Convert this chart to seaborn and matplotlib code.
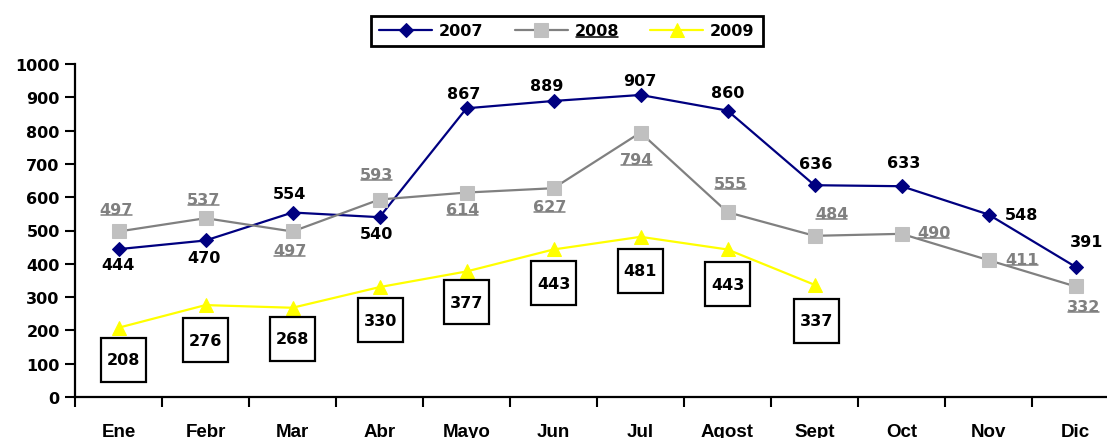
import matplotlib
matplotlib.use("Agg")
import matplotlib.pyplot as plt
import seaborn as sns
from matplotlib.lines import Line2D
from matplotlib.patches import Rectangle
from matplotlib.text import Text
from matplotlib.offsetbox import DrawingArea, AnnotationBbox

sns.set_theme(style="ticks", rc={
    "axes.edgecolor": "black", "xtick.color": "black", "ytick.color": "black",
    "text.color": "black", "axes.labelcolor": "black",
})
plt.rcParams['font.family'] = ['DejaVu Sans']

""" Data """
MONTHS = ['Ene', 'Febr', 'Mar', 'Abr', 'Mayo', 'Jun', 'Jul', 'Agost', 'Sept', 'Oct', 'Nov', 'Dic']
Y_TICKS = [0, 100, 200, 300, 400, 500, 600, 700, 800, 900, 1000]
YEARS = ['2007', '2008', '2009']
VALUES_2007 = [444, 470, 554, 540, 867, 889, 907, 860, 636, 633, 548, 391]
VALUES_2008 = [497, 537, 497, 593, 614, 627, 794, 555, 484, 490, 411, 332]
VALUES_2009 = [208, 276, 268, 330, 377, 443, 481, 443, 337]

""" label offsets (pixels, centre of text relative to the point) """
OFF_2007 = [(0, -15), (-2, -17), (-3, 19), (-3, -16), (-3, 15), (-7, 15), (-1, 14),
            (0, 18), (1, 22), (2, 24), (33, 0), (11, 25)]
OFF_2008 = [(-2, 22), (-2, 19), (-3, -19), (-3, 25), (-4, -17), (-4, -18), (-4, -27),
            (3, 29), (17, 22), (32, 1), (34, 1), (8, -20)]
OFF_2009 = [(5, -32), (0, -35), (0, -31), (1, -33), (0, -31), (0, -34), (0, -34),
            (0, -35), (2, -36)]

W, H = 1107, 439
FS = 11.5
GRAY_TXT = '#808080'
PX = 0.72  # points per pixel at dpi 100

fig = plt.figure(figsize=(W / 100, H / 100), dpi=100)
fig.patch.set_facecolor('white')
ax = fig.add_axes([75 / W, 41 / H, 1044 / W, 333 / H])
ax.set_facecolor('white')

sns.lineplot(x=list(range(len(VALUES_2007))), y=VALUES_2007, ax=ax, color='#000080',
             marker='D', markersize=7.5, markerfacecolor='#000080', markeredgecolor='#000080',
             linewidth=1.6, label=YEARS[0])
sns.lineplot(x=list(range(len(VALUES_2008))), y=VALUES_2008, ax=ax, color='#808080',
             marker='s', markersize=10.5, markerfacecolor='#C0C0C0', markeredgecolor='#C0C0C0',
             linewidth=1.6, label=YEARS[1])
sns.lineplot(x=list(range(len(VALUES_2009))), y=VALUES_2009, ax=ax, color='#FFFF00',
             marker='^', markersize=10, markerfacecolor='#FFFF00', markeredgecolor='#FFFF00',
             linewidth=1.6, label=YEARS[2])

ax.set_xlim(-0.5, 11.5)
ax.set_ylim(0, 1000)
sns.despine(ax=ax)
for side in ['left', 'bottom']:
    ax.spines[side].set_linewidth(1.6)

ax.set_xticks(range(len(MONTHS)))
ax.set_xticklabels(MONTHS, fontfamily=['Liberation Sans', 'DejaVu Sans'], fontweight='bold', fontsize=13.5)
ax.set_xticks([i - 0.5 for i in range(len(MONTHS) + 1)], minor=True)
ax.tick_params(axis='x', which='major', length=0, pad=18.5)
ax.tick_params(axis='x', which='minor', length=7, width=1.5, direction='out')
ax.set_yticks(Y_TICKS)
ax.set_yticklabels([str(v) for v in Y_TICKS], fontweight='bold', fontsize=FS)
ax.tick_params(axis='y', length=7, width=1.5, direction='out', pad=4)
ax.set_xlabel('')
ax.set_ylabel('')

# data labels
for i, v in enumerate(VALUES_2007):
    ax.annotate(str(v), (i, v), xytext=OFF_2007[i], textcoords='offset pixels',
                ha='center', va='center', fontsize=FS, fontweight='bold', color='black', zorder=5)

gray_texts = []
for i, v in enumerate(VALUES_2008):
    t = ax.annotate(str(v), (i, v), xytext=OFF_2008[i], textcoords='offset pixels',
                    ha='center', va='center', fontsize=FS, fontweight='bold', color=GRAY_TXT, zorder=5)
    gray_texts.append(t)

# boxed labels for 2009 (box about 45 x 44 px)
bw, bh = 45 * PX, 44 * PX
for i, v in enumerate(VALUES_2009):
    da = DrawingArea(bw, bh, 0, 0)
    da.add_artist(Rectangle((0, 0), bw, bh, fc='white', ec='black', lw=1.6))
    da.add_artist(Text(bw / 2, bh / 2, str(v), ha='center', va='center',
                       fontsize=FS, fontweight='bold', color='black'))
    ab = AnnotationBbox(da, (i, v), xybox=(OFF_2009[i][0] * PX, OFF_2009[i][1] * PX),
                        boxcoords='offset points', frameon=False, pad=0,
                        box_alignment=(0.5, 0.5))
    ab.set_zorder(6)
    ax.add_artist(ab)

handles, labels = ax.get_legend_handles_labels()
leg = ax.legend(handles, labels, loc='center', bbox_to_anchor=(567 / W, 1 - 32 / H),
                bbox_transform=fig.transFigure, ncol=3, frameon=True, fancybox=False,
                edgecolor='black', framealpha=1, borderpad=0.5, handlelength=3.3,
                columnspacing=1.95, handletextpad=0.45, prop={'weight': 'bold', 'size': FS})
leg.get_frame().set_linewidth(2)

# underline the 2008 texts
fig.canvas.draw()
renderer = fig.canvas.get_renderer()
to_underline = [(t, GRAY_TXT) for t in gray_texts] + [(leg.get_texts()[1], 'black')]
for t, col in to_underline:
    bb = t.get_window_extent(renderer)
    y = bb.y0 + 2.0
    fig.add_artist(Line2D([(bb.x0 + 1) / W, (bb.x1 - 1) / W], [y / H, y / H],
                          transform=fig.transFigure, color=col, linewidth=1.1, zorder=10))

fig.savefig('out.png', dpi=100, facecolor='white')
